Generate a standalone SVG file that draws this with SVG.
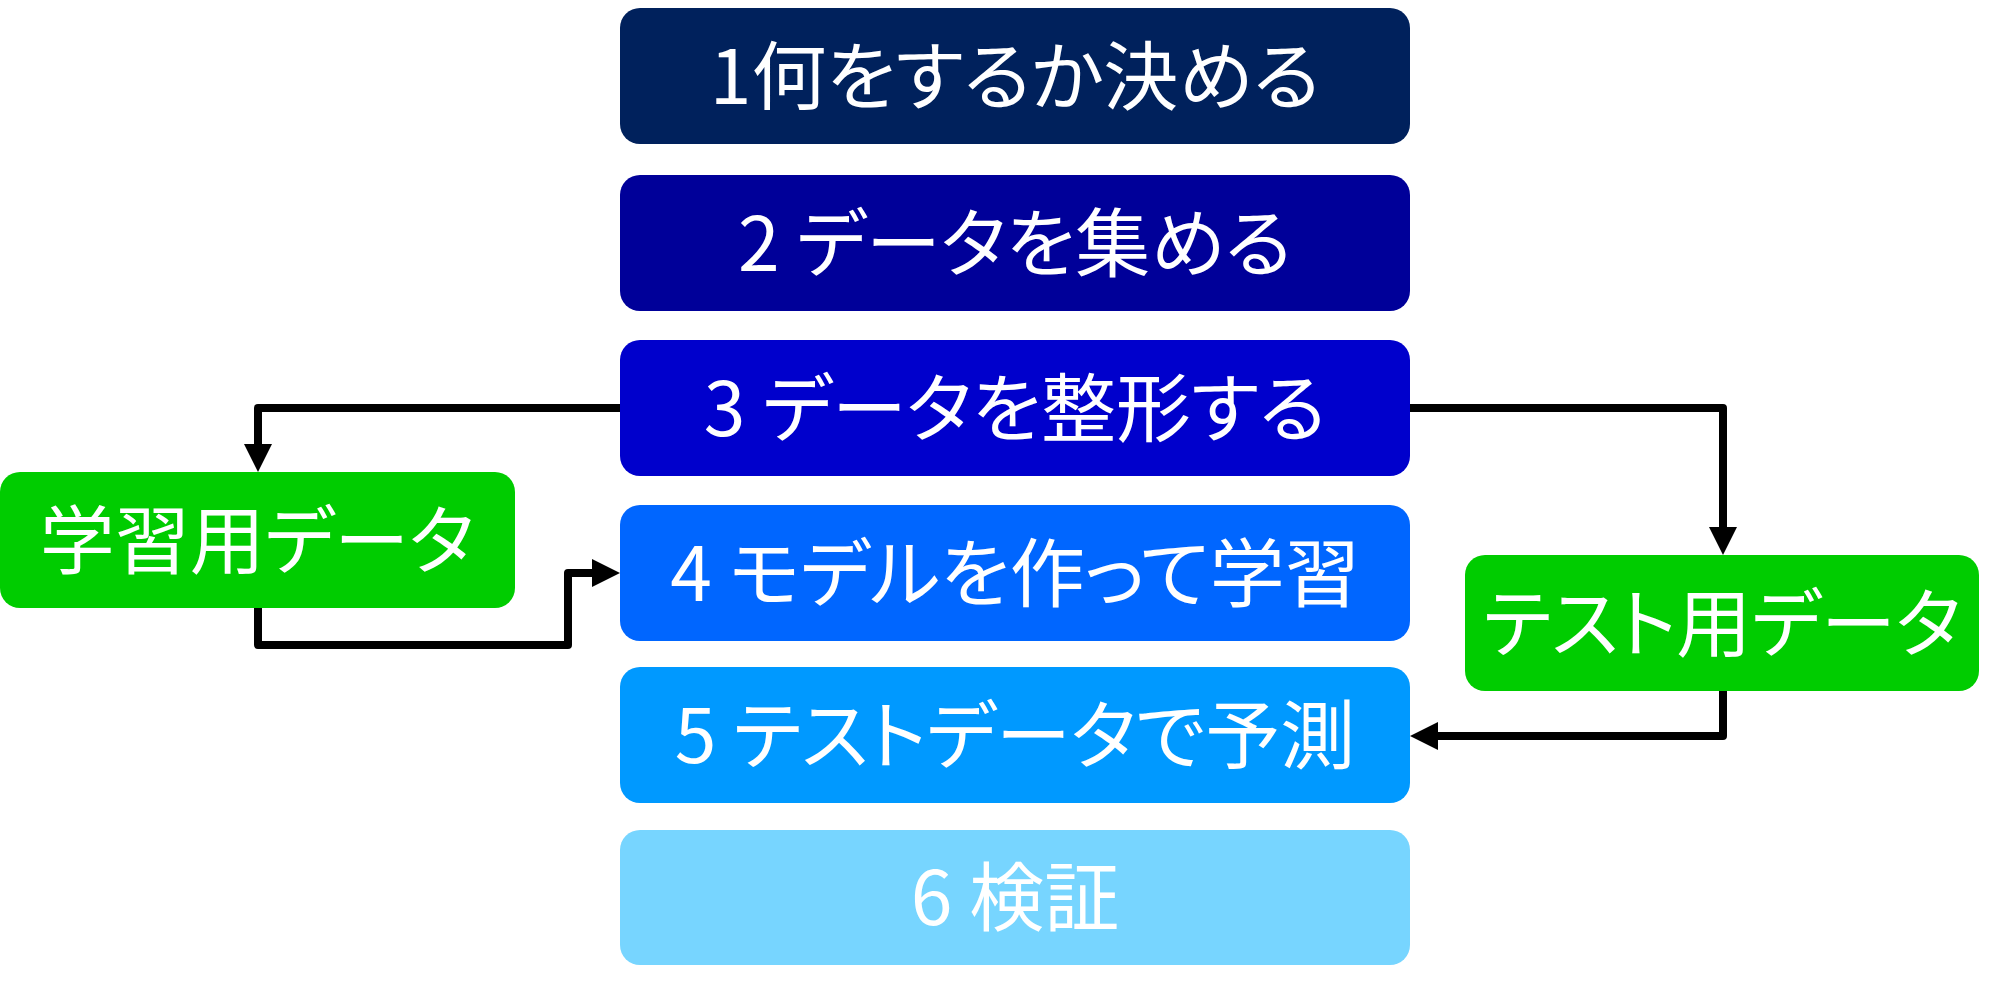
<svg xmlns="http://www.w3.org/2000/svg" width="1997" height="989" viewBox="0 0 1997 989">
<style>
.box{stroke:none}
.t{font-family:"Noto Sans CJK JP","Noto Sans",sans-serif;font-size:75px;fill:#ffffff;text-anchor:middle;dominant-baseline:central;font-feature-settings:"palt" 1}
.c{fill:none;stroke:#000000;stroke-width:8;stroke-linejoin:round}
</style>
<defs>
<marker id="ah" viewBox="0 0 28 28" refX="1" refY="14" markerWidth="28" markerHeight="28" markerUnits="userSpaceOnUse" orient="auto">
<path d="M0,0 L28,14 L0,28 Z" fill="#000000"/>
</marker>
</defs>
<rect width="1997" height="989" fill="#ffffff"/>
<g id="n1"><rect class="box" x="620" y="8" width="790" height="136" rx="20" fill="#00215C"/><text class="t" x="1015" y="71">1何をするか決める</text></g>
<g id="n2"><rect class="box" x="620" y="175" width="790" height="136" rx="20" fill="#000099"/><text class="t" x="1015" y="238">2 データを集める</text></g>
<g id="n3"><rect class="box" x="620" y="340" width="790" height="136" rx="20" fill="#0000CC"/><text class="t" x="1015" y="403">3 データを整形する</text></g>
<g id="n4"><rect class="box" x="620" y="505" width="790" height="136" rx="20" fill="#0066FF"/><text class="t" x="1015" y="568">4 モデルを作って学習</text></g>
<g id="n5"><rect class="box" x="620" y="667" width="790" height="136" rx="20" fill="#0099FF"/><text class="t" x="1015" y="730">5 テストデータで予測</text></g>
<g id="n6"><rect class="box" x="620" y="830" width="790" height="135" rx="20" fill="#77D5FF"/><text class="t" x="1015" y="892">6 検証</text></g>
<g id="train"><rect class="box" x="0" y="472" width="515" height="136" rx="20" fill="#00CC00"/><text class="t" x="257" y="535">学習用データ</text></g>
<g id="test"><rect class="box" x="1465" y="555" width="514" height="136" rx="20" fill="#00CC00"/><text class="t" x="1722" y="618">テスト用データ</text></g>
<g id="connectors">
<path class="c" d="M620,408 H258 V445" marker-end="url(#ah)"/>
<path class="c" d="M258,608 V645 H568 V573 H593" marker-end="url(#ah)"/>
<path class="c" d="M1410,408 H1723 V528" marker-end="url(#ah)"/>
<path class="c" d="M1723,691 V736 H1437" marker-end="url(#ah)"/>
</g>
</svg>
